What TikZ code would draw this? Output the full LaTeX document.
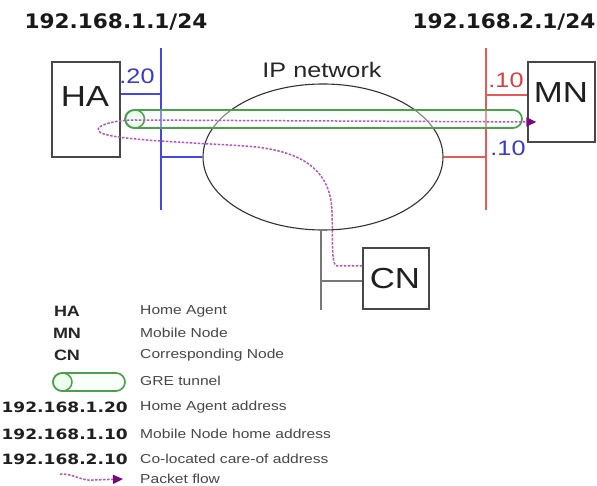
\documentclass[tikz,border=0pt]{standalone}
\usepackage{fontspec}
\setmainfont{Liberation Sans}
\newfontfamily\dvs{DejaVu Sans}
\usetikzlibrary{shapes.geometric,arrows.meta}
\definecolor{busblue}{HTML}{4646E6}
\definecolor{lblblue}{HTML}{3A3AC8}
\definecolor{busred}{HTML}{E45A5A}
\definecolor{lblred}{HTML}{D84040}
\definecolor{tungreen}{HTML}{4E9E4E}
\definecolor{flowmag}{HTML}{B455C4}
\definecolor{arrowpur}{HTML}{7A0A7A}
\definecolor{buscn}{HTML}{777777}
\tikzset{
  box/.style={draw=black!72, line width=1.3pt, inner sep=0pt},
  bigtxt/.style={font=\fontsize{29}{29}\selectfont, text=black!88, xscale=1.2, inner sep=0pt},
  midtxt/.style={font=\fontsize{21}{21}\selectfont, xscale=1.2, inner sep=0pt},
  iphead/.style={font=\dvs\bfseries\fontsize{20}{20}\selectfont, text=black!90, xscale=1.08, inner sep=0pt},
  legkey/.style={font=\bfseries\fontsize{15}{15}\selectfont, text=black!85, xscale=1.2, inner sep=0pt},
  legnum/.style={font=\dvs\bfseries\fontsize{14.2}{14.2}\selectfont, text=black!88, xscale=1.2, inner sep=0pt, anchor=east},
  legdesc/.style={font=\fontsize{13}{13}\selectfont, text=black!72, xscale=1.2, inner sep=0pt, anchor=west},
  bluebus/.style={draw=busblue, line width=1.4pt},
  redbus/.style={draw=busred, line width=1.4pt},
  graybus/.style={draw=buscn, line width=1.6pt},
  tunnel/.style={draw=tungreen, line width=1.7pt, fill=green!5, fill opacity=0.4},
  flow/.style={draw=flowmag, line width=1.5pt, dash pattern=on 2.5pt off 1.5pt,
     -{Triangle[length=10pt,width=9pt,fill=arrowpur,color=arrowpur]}},
}
\begin{document}
\begin{tikzpicture}[x=1pt,y=-1pt]
\useasboundingbox (0,0) rectangle (597,486);
\fill[white] (0,0) rectangle (597,486);

% headings
\node[iphead] (h1) at (116,22) {192.168.1.1/24};
\node[iphead] (h2) at (504,22) {192.168.2.1/24};

% network cloud
\node[draw=black!80, line width=1.1pt, ellipse, minimum width=240pt, minimum height=146pt, inner sep=0pt] (net) at (323,157) {};
\node[midtxt, text=black!85] (ipn) at (322,70) {IP network};

% buses
\coordinate (btop) at (161,48);
\coordinate (bbot) at (161,210);
\coordinate (rtop) at (486,48);
\coordinate (rbot) at (486,210);
\draw[bluebus] (btop) -- (bbot);
\draw[redbus] (rtop) -- (rbot);

% boxes
\node[box, minimum width=68pt, minimum height=95pt] (ha) at (86,109.5) {};
\node[bigtxt] (hat) at (85,97) {HA};
\node[box, minimum width=67pt, minimum height=80pt] (mn) at (561.5,102) {};
\node[bigtxt] (mnt) at (561,93) {MN};
\node[box, minimum width=66pt, minimum height=61pt] (cn) at (396,278.5) {};
\node[bigtxt] (cnt) at (395,279) {CN};

% links
\coordinate (b1) at (161,94);
\coordinate (b2) at (161,157);
\coordinate (r1) at (486,95);
\coordinate (r2) at (486,157);
\draw[bluebus] (b1 -| ha.east) -- (b1);
\draw[bluebus] (b2) -- (net.west);
\draw[redbus] (r1) -- (r1 -| mn.west);
\draw[redbus] (net.east) -- (r2);
\coordinate (gbot) at (321,310);
\coordinate (g1) at (321,281);
\draw[graybus] (gbot |- net.south) -- (gbot);
\draw[graybus] (g1) -- (g1 -| cn.west);

% address labels
\node[midtxt, text=lblblue] (l20) at (137,76) {.20};
\node[midtxt, text=lblred] (l10a) at (506,80) {.10};
\node[midtxt, text=lblblue] (l10b) at (508,148) {.10};

% tunnel
\draw[tunnel, rounded corners=9pt] (125,110) rectangle (522,128);
\draw[draw=tungreen, line width=1.5pt, fill=green!12, fill opacity=0.5] (135,119) ellipse [x radius=9.5, y radius=9];

% packet flow
\draw[flow] ([yshift=12.5pt]cn.west) -- (337,266)
  .. controls (331,266) and (333,240) .. (332,212)
  .. controls (331,172) and (305,150) .. (245,146)
  .. controls (180,142) and (118,140) .. (101,133)
  .. controls (90,127) and (112,120) .. (135,120)
  -- ([xshift=9pt,yshift=-20pt]mn.west);

% legend
\node[legkey] (kha) at (67,311) {HA};
\node[legkey] (kmn) at (67,333) {MN};
\node[legkey] (kcn) at (67,355) {CN};
\node[legdesc] (dha) at (140,311) {Home Agent};
\node[legdesc] (dmn) at (140,333) {Mobile Node};
\node[legdesc] (dcn) at (140,355) {Corresponding Node};
\draw[tunnel, rounded corners=9pt] (53,373) rectangle (125,391);
\draw[draw=tungreen, line width=1.5pt, fill=green!12, fill opacity=0.5] (62.5,382) ellipse [x radius=9.5, y radius=9];
\node[legdesc] (dgre) at (140,381) {GRE tunnel};
\node[legnum] (n1) at (128,407) {192.168.1.20};
\node[legnum] (n2) at (128,434) {192.168.1.10};
\node[legnum] (n3) at (128,459) {192.168.2.10};
\node[legdesc] (d1) at (140,407) {Home Agent address};
\node[legdesc] (d2) at (140,434) {Mobile Node home address};
\node[legdesc] (d3) at (140,459) {Co-located care-of address};
\coordinate (pf0) at (60,474);
\coordinate (pf1) at (123,479);
\draw[flow] (pf0) .. controls (76,474) and (80,481) .. (93,480) -- (pf1);
\node[legdesc] (dpf) at (140,479) {Packet flow};
\end{tikzpicture}
\end{document}
